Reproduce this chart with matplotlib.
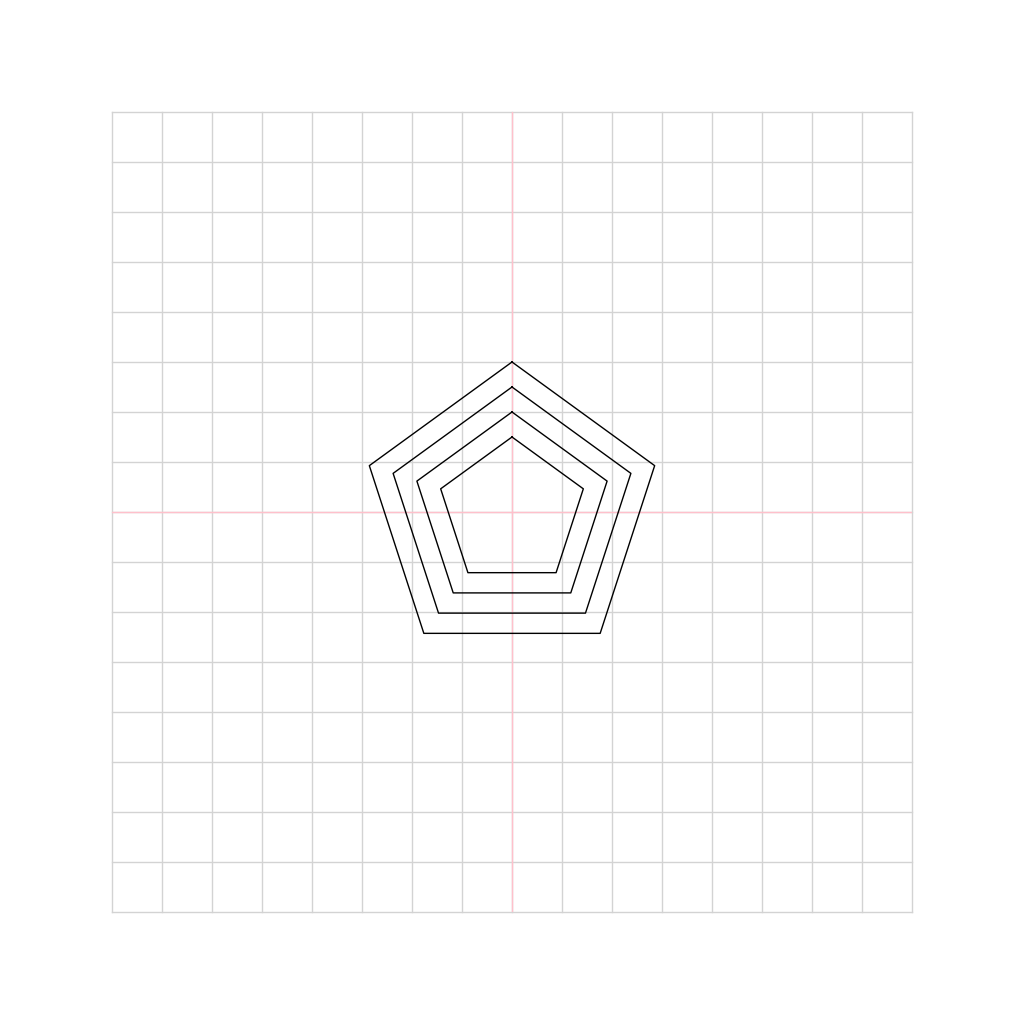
import numpy as np
import matplotlib
matplotlib.use("Agg")
import matplotlib.pyplot as plt

radii = [3.0, 2.5, 2.0, 1.5]
n_sides = 5
grid_min, grid_max = -8, 8

fig = plt.figure(figsize=(10.24, 10.24), dpi=100)
ax = fig.add_axes([112/1024, 112/1024, 800/1024, 800/1024])
ax.set_xlim(grid_min, grid_max)
ax.set_ylim(grid_min, grid_max)

for v in range(grid_min, grid_max + 1):
    ax.axvline(v, color="#d3d3d3", lw=1.0, zorder=1, clip_on=False)
    ax.axhline(v, color="#d3d3d3", lw=1.0, zorder=1, clip_on=False)
ax.axvline(0, color="pink", lw=1.0, zorder=2)
ax.axhline(0, color="pink", lw=1.0, zorder=2)

ang = np.deg2rad(90 + 360 / n_sides * np.arange(n_sides + 1))
for r in radii:
    ax.plot(r * np.cos(ang), r * np.sin(ang), color="black", lw=1.0, zorder=3)

for s in ax.spines.values():
    s.set_visible(False)
ax.set_xticks([])
ax.set_yticks([])
fig.savefig("out.png", dpi=100)
